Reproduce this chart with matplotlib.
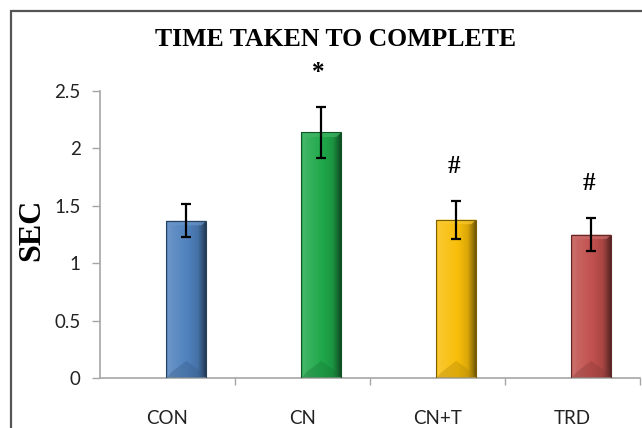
import numpy as np
import matplotlib
matplotlib.use("Agg")
import matplotlib.pyplot as plt
from matplotlib.colors import to_rgb
from matplotlib.patches import Rectangle, Polygon

GROUPS = ["CON", "CN", "CN+T", "TRD"]
MEANS = [1.37, 2.14, 1.38, 1.25]
ERRS = [0.145, 0.22, 0.165, 0.14]
MARKS = ["", "*", "#", "#"]
COLORS = ["#4f81bd", "#1fa84a", "#f8be0a", "#c0504d"]

SERIF = ["Liberation Serif", "DejaVu Serif"]
SANS = ["Lato", "DejaVu Sans"]
AXIS = "#a6a6a6"


def shade(c, f):
    c = np.array(to_rgb(c))
    if f >= 0:
        return c + (1 - c) * f
    return c * (1 + f)


def bevel_bar(ax, bar, color):
    x0, w, h = bar.get_x(), bar.get_width(), bar.get_height()
    # horizontal gradient: light left, base middle, dark right
    t = np.linspace(0, 1, 80)
    prof = np.interp(t, [0, 0.04, 0.15, 0.55, 0.8, 0.96, 1.0],
                     [-0.25, 0.18, 0.12, 0.0, -0.12, -0.45, -0.55])
    img = np.array([shade(color, f) for f in prof])[None, :, :]
    im = ax.imshow(img, extent=(x0, x0 + w, 0, h), aspect="auto",
                   interpolation="bilinear", zorder=2)
    im.set_clip_path(bar)
    # bottom bevel (darker wedge) and top bevel (lighter)
    ax.add_patch(Polygon([(x0, 0), (x0 + w, 0), (x0 + w - w * 0.12, 0.05),
                          (x0 + w / 2, 0.15), (x0 + w * 0.12, 0.05)],
                         closed=True, facecolor=shade(color, -0.3),
                         edgecolor="none", alpha=0.35, zorder=3))
    ax.add_patch(Polygon([(x0, h), (x0 + w, h), (x0 + w - w * 0.12, h - 0.04),
                          (x0 + w * 0.12, h - 0.04)],
                         closed=True, facecolor=shade(color, 0.15),
                         edgecolor="none", alpha=0.7, zorder=3))


fig = plt.figure(figsize=(6.42, 4.28), dpi=100)
ax = fig.add_axes([100 / 642, 50 / 428, 540 / 642, 287 / 428])

x = np.arange(len(GROUPS))
off, bw = 0.14, 0.295
bars = ax.bar(x + off, MEANS, width=bw, color=COLORS, zorder=1,
              edgecolor="none")
for b, c in zip(bars, COLORS):
    bevel_bar(ax, b, c)
    ax.add_patch(Rectangle((b.get_x(), 0), b.get_width(), b.get_height(),
                           fill=False, edgecolor=shade(c, -0.5), lw=0.8,
                           zorder=4))

ax.errorbar(x + off, MEANS, yerr=ERRS, fmt="none", ecolor="black",
            elinewidth=1.6, capsize=3.8, capthick=1.6, zorder=5)

for xi, m, e, s in zip(x, MEANS, ERRS, MARKS):
    if s:
        ax.text(xi + off - 0.02, m + e + 0.3, s, ha="center", va="center",
                fontsize=18, fontweight="bold", family=SERIF)

ax.set_xlim(-0.5, len(GROUPS) - 0.5)
ax.set_ylim(0, 2.5)
ax.set_yticks(np.arange(0, 2.51, 0.5))
ax.set_yticklabels(["0", "0.5", "1", "1.5", "2", "2.5"])
ax.set_xticks(np.arange(0.5, len(GROUPS), 1.0))
ax.set_xticklabels([])
ax.set_xticks(x, minor=True)
ax.set_xticklabels(GROUPS, minor=True)
ax.tick_params(axis="y", colors=AXIS, labelcolor="#222222", length=6,
               width=1, pad=8, labelsize=13.5)
ax.tick_params(axis="x", which="major", colors=AXIS, length=5, width=1,
               direction="out")
ax.tick_params(axis="x", which="minor", length=0, pad=23, labelsize=13.5,
               labelcolor="#222222")
for lab in ax.get_yticklabels() + ax.get_xticklabels(minor=True):
    lab.set_family(SANS)
for s in ("top", "right"):
    ax.spines[s].set_visible(False)
for s in ("left", "bottom"):
    ax.spines[s].set_color(AXIS)
    ax.spines[s].set_linewidth(1.2)

fig.text(336 / 642, 1 - 40 / 428, "TIME TAKEN TO COMPLETE", ha="center",
         va="center", fontsize=18.5, fontweight="bold", family=SERIF)
fig.text(32 / 642, 1 - 230 / 428, "SEC", ha="center", va="center",
         rotation=90, fontsize=23, fontweight="bold", family=SERIF)

fig.add_artist(Rectangle((11 / 642, -0.5), 2, 0.5 + 1 - 11 / 428,
                         transform=fig.transFigure, fill=False,
                         edgecolor="#555555", lw=1.6))

fig.savefig("out.png", dpi=100, facecolor="white")
